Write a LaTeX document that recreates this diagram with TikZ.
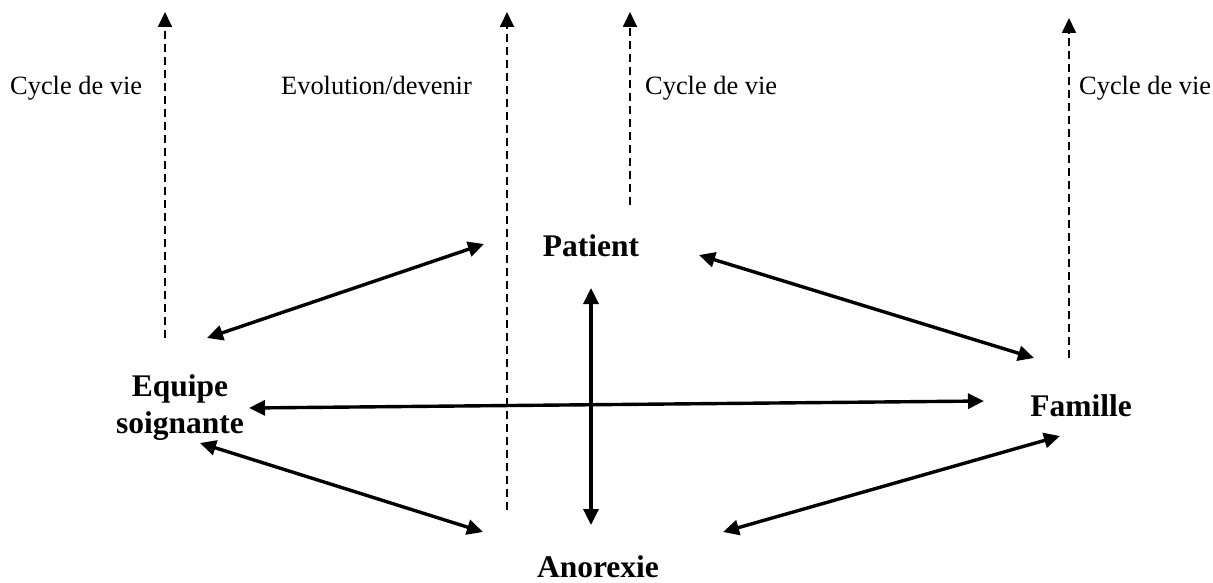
\documentclass[tikz,border=0pt]{standalone}
\usepackage{fontspec}
\setmainfont{Liberation Serif}
\usetikzlibrary{arrows.meta}
\begin{document}
\begin{tikzpicture}[x=1pt,y=-1pt,
  lbl/.style={inner sep=0pt,anchor=base west,font=\fontsize{26.4}{30}\selectfont},
  actor/.style={inner sep=0pt,font=\fontsize{31.5}{37}\selectfont\bfseries},
  link/.style={line width=3.4pt,{Triangle[length=16pt,width=15pt]}-{Triangle[length=16pt,width=15pt]}},
  timeline/.style={line width=1.8pt,dash pattern=on 8pt off 5pt,-{Triangle[length=15pt,width=14pt]}}]
\useasboundingbox (0,0) rectangle (1213,583);
% labels
\node[lbl] (l1) at (10,95) {Cycle de vie};
\node[lbl] (l2) at (281,95) {Evolution/devenir};
\node[lbl] (l3) at (645,95) {Cycle de vie};
\node[lbl] (l4) at (1079,95) {Cycle de vie};
% dashed time arrows
\coordinate (d1a) at (165,338); \coordinate (d1b) at (165,12);
\coordinate (d2a) at (507,510); \coordinate (d2b) at (507,12);
\coordinate (d3a) at (630,205); \coordinate (d3b) at (630,12);
\coordinate (d4a) at (1069,358); \coordinate (d4b) at (1069,18);
\draw[timeline] (d1a) -- (d1b);
\draw[timeline] (d2a) -- (d2b);
\draw[timeline] (d3a) -- (d3b);
\draw[timeline] (d4a) -- (d4b);
% actors
\node[actor,anchor=base] (P) at (591,256) {Patient};
\node[actor,anchor=center,align=center] (E) at (180,408) {Equipe\\soignante};
\node[actor,anchor=base] (F) at (1081,416) {Famille};
\node[actor,anchor=base] (A) at (598,577) {Anorexie};
% links
\draw[link] ([shift={(27,-70)}]E.center) -- ([shift={(-107,-12)}]P.base);
\draw[link] ([shift={(108,-1)}]P.base) -- ([shift={(-47,-58)}]F.base);
\draw[link] ([shift={(0,32)}]P.base) -- ([shift={(-7,-52)}]A.base);
\draw[link] ([shift={(69,0)}]E.center) -- ([shift={(-97,-15)}]F.base);
\draw[link] ([shift={(20,35)}]E.center) -- ([shift={(-115,-45)}]A.base);
\draw[link] ([shift={(125,-45)}]A.base) -- ([shift={(-21,20)}]F.base);
\end{tikzpicture}
\end{document}
